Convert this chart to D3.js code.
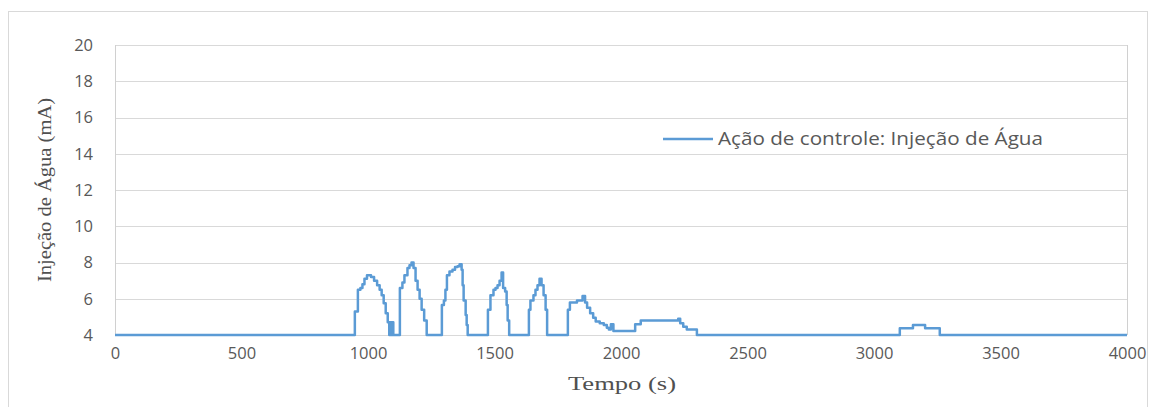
<!DOCTYPE html>
<html><head><meta charset="utf-8">
<script src="https://cdn.jsdelivr.net/npm/d3@7"></script>
<style>body{margin:0;background:#fff;}svg{display:block;}</style>
</head><body>
<svg id="c" width="1156" height="407"></svg>
<script>
const times  = [0,948,960,970,978,986,996,1012,1024,1036,1046,1054,1062,1070,1078,1084,1088,1092,1096,1100,1126,1136,1144,1156,1164,1172,1180,1188,1196,1204,1212,1222,1232,1292,1300,1306,1312,1322,1334,1344,1354,1362,1370,1374,1378,1386,1390,1394,1474,1484,1496,1504,1512,1520,1528,1534,1542,1548,1552,1558,1636,1642,1654,1662,1670,1678,1686,1694,1702,1708,1790,1798,1826,1848,1858,1866,1878,1890,1900,1916,1932,1944,1952,1960,1970,2056,2078,2226,2234,2246,2260,2300,3102,3154,3202,3260,4000];
const values = [4,5.3,6.5,6.6,6.8,7.1,7.3,7.2,7.0,6.75,6.5,6.2,5.75,5.2,4.7,4.0,4.7,4.0,4.7,4.0,6.6,6.9,7.3,7.7,7.85,8.0,7.7,7.0,6.5,6.0,5.4,4.8,4.0,5.65,5.9,6.5,7.3,7.5,7.6,7.75,7.8,7.9,7.6,6.75,5.9,5.1,4.55,4.0,5.4,6.2,6.5,6.6,6.75,7.0,7.45,6.6,6.4,5.65,4.8,4.0,5.4,5.9,6.2,6.5,6.75,7.1,6.75,6.2,5.4,4.0,5.4,5.8,5.9,6.15,5.8,5.5,5.2,4.95,4.75,4.65,4.55,4.4,4.3,4.6,4.22,4.6,4.8,4.9,4.65,4.45,4.3,4.0,4.37,4.55,4.37,4.0,4.0];
const xTicks = [0,500,1000,1500,2000,2500,3000,3500,4000];
const yTicks = [4,6,8,10,12,14,16,18,20];
const seriesName = "Ação de controle: Injeção de Água";
const xTitle = "Tempo (s)";
const yTitle = "Injeção de Água (mA)";

const svg = d3.select("#c");
const L = 115, R = 1127, T = 45, B = 335;
const x = d3.scaleLinear().domain([0,4000]).range([L,R]);
const y = d3.scaleLinear().domain([4,20]).range([B,T]);

svg.append("rect").attr("x",8.5).attr("y",11.5).attr("width",1139).attr("height",420)
  .attr("fill","none").attr("stroke","#d9d9d9").attr("stroke-width",1);

svg.append("g").selectAll("line").data(yTicks).join("line")
  .attr("x1",L).attr("x2",R).attr("y1",d=>Math.round(y(d))+0.5).attr("y2",d=>Math.round(y(d))+0.5)
  .attr("stroke","#d9d9d9").attr("stroke-width",1);
[L,R].forEach(px=>svg.append("line").attr("x1",px+0.5).attr("x2",px+0.5).attr("y1",T).attr("y2",B)
  .attr("stroke","#d0d0d0").attr("stroke-width",1));

const yAxis = svg.append("g").attr("transform",`translate(${L},0)`)
  .call(d3.axisLeft(y).tickValues(yTicks).tickSize(0).tickPadding(22).tickFormat(d3.format("d")));
yAxis.select(".domain").remove();
yAxis.selectAll("text").attr("fill","#595959").style("font-family","'Open Sans', sans-serif").style("font-size","16.5px");

const xAxis = svg.append("g").attr("transform",`translate(0,${B})`)
  .call(d3.axisBottom(x).tickValues(xTicks).tickSize(0).tickPadding(12).tickFormat(d3.format("d")));
xAxis.select(".domain").remove();
xAxis.selectAll("text").attr("fill","#595959").style("font-family","'Open Sans', sans-serif").style("font-size","16.5px");

const line = d3.line().x(d=>x(d[0])).y(d=>y(d[1])).curve(d3.curveStepAfter);
svg.append("path").datum(times.map((t,i)=>[t,values[i]]))
  .attr("d",line).attr("fill","none").attr("stroke","#5b9bd5").attr("stroke-width",2.5).attr("stroke-linejoin","round");

svg.append("text").attr("x",(L+R)/2 + 1).attr("y",390).attr("text-anchor","middle")
  .attr("fill","#505050").style("font-family","'Liberation Serif', serif").style("font-size","19px")
  .attr("textLength",108).attr("lengthAdjust","spacingAndGlyphs")
  .text(xTitle);
svg.append("text").attr("transform",`translate(51,${(T+B)/2}) rotate(-90)`).attr("text-anchor","middle")
  .attr("fill","#505050").style("font-family","'Liberation Serif', serif").style("font-size","19px")
  .attr("textLength",184).attr("lengthAdjust","spacingAndGlyphs")
  .text(yTitle);

svg.append("line").attr("x1",663).attr("x2",713).attr("y1",139).attr("y2",139)
  .attr("stroke","#5b9bd5").attr("stroke-width",2.5);
svg.append("text").attr("x",718).attr("y",145).attr("fill","#595959")
  .style("font-family","'Open Sans', sans-serif").style("font-size","17.5px")
  .attr("textLength",325).attr("lengthAdjust","spacingAndGlyphs").text(seriesName);
</script>
</body></html>
